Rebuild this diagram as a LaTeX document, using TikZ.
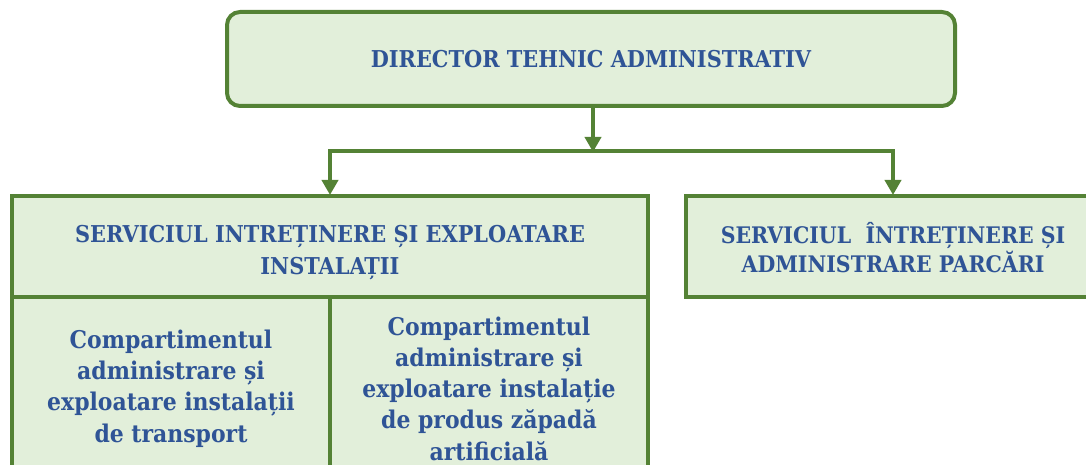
\documentclass[tikz,border=0pt]{standalone}
\usepackage{fontspec}
\setmainfont{DejaVu Serif Condensed}
\usetikzlibrary{arrows.meta}
\definecolor{boxgreen}{RGB}{84,130,53}
\definecolor{boxfill}{RGB}{226,239,218}
\definecolor{txtblue}{RGB}{47,84,150}
\tikzset{
  orgbox/.style={draw=boxgreen, fill=boxfill, line width=4pt, inner sep=0pt,
    align=center, text=txtblue, font=\bfseries\fontsize{23.2}{32}\selectfont},
  cellbox/.style={orgbox, font=\bfseries\fontsize{24.4}{31.3}\selectfont},
  conn/.style={draw=boxgreen, line width=4pt},
  arr/.style={conn, -{Triangle[width=16pt,length=15pt]}, shorten >=-1pt}
}
\begin{document}
\begin{tikzpicture}[x=1pt,y=-1pt]
\useasboundingbox (0,0) rectangle (1086,465);
\clip (0,0) rectangle (1086,465);
\node[orgbox, rounded corners=13pt, minimum width=728pt, minimum height=94pt] (dir) at (591,59) {DIRECTOR TEHNIC ADMINISTRATIV};
\node[orgbox, minimum width=636pt, minimum height=101pt] (s1) at (330,246.5) {\rule{0pt}{30pt}SERVICIUL INTREȚINERE ȘI EXPLOATARE\\INSTALAȚII};
\node[cellbox, minimum width=318pt, minimum height=183pt] (c1) at (171,388.5) {Compartimentul\\administrare și\\exploatare instalații\\de transport};
\node[cellbox, minimum width=318pt, minimum height=183pt] (c2) at (489,388.5) {Compartimentul\\administrare și\\exploatare instalație\\de produs zăpadă\\artificială};
\node[orgbox, font=\bfseries\fontsize{22.8}{29}\selectfont, minimum width=414pt, minimum height=101pt] (s2) at (893,246.5) {\rule{0pt}{24pt}SERVICIUL~ ÎNTREȚINERE ȘI\\ADMINISTRARE PARCĂRI};
\coordinate (j) at (593,151);
\draw[arr] (dir.south -| j) -- (j);
\draw[conn, line cap=rect] (s1.north |- j) -- (s2.north |- j);
\draw[arr] (s1.north |- j) -- (s1.north);
\draw[arr] (s2.north |- j) -- (s2.north);
\end{tikzpicture}
\end{document}
